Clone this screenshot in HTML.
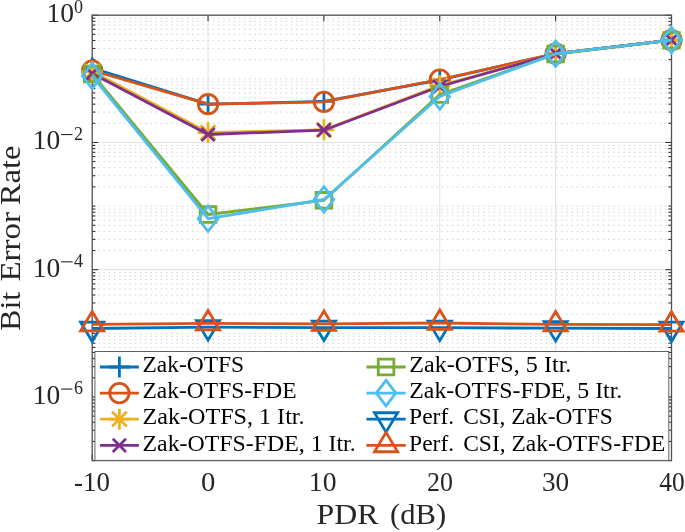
<!DOCTYPE html>
<html><head><meta charset="utf-8"><style>
html,body{margin:0;padding:0;background:#fff;}
body{width:685px;height:532px;overflow:hidden;}
svg{display:block;will-change:transform;}
text{font-family:"Liberation Serif",serif;}
</style></head><body>
<svg width="685" height="532" viewBox="0 0 685 532">
<rect width="685" height="532" fill="#fff"/>
<path d="M92.2 59.67H671.5M92.2 48.47H671.5M92.2 40.52H671.5M92.2 34.35H671.5M92.2 29.32H671.5M92.2 25.06H671.5M92.2 21.37H671.5M92.2 18.11H671.5M92.2 123.30H671.5M92.2 112.10H671.5M92.2 104.15H671.5M92.2 97.98H671.5M92.2 92.94H671.5M92.2 88.68H671.5M92.2 84.99H671.5M92.2 81.74H671.5M92.2 78.83H671.5M92.2 186.93H671.5M92.2 175.73H671.5M92.2 167.78H671.5M92.2 161.61H671.5M92.2 156.57H671.5M92.2 152.31H671.5M92.2 148.62H671.5M92.2 145.37H671.5M92.2 250.56H671.5M92.2 239.36H671.5M92.2 231.41H671.5M92.2 225.24H671.5M92.2 220.20H671.5M92.2 215.94H671.5M92.2 212.25H671.5M92.2 209.00H671.5M92.2 206.09H671.5M92.2 314.19H671.5M92.2 302.98H671.5M92.2 295.03H671.5M92.2 288.87H671.5M92.2 283.83H671.5M92.2 279.57H671.5M92.2 275.88H671.5M92.2 272.63H671.5M92.2 377.82H671.5M92.2 366.61H671.5M92.2 358.66H671.5M92.2 352.50H671.5M92.2 347.46H671.5M92.2 343.20H671.5M92.2 339.51H671.5M92.2 336.25H671.5M92.2 333.34H671.5M92.2 441.45H671.5M92.2 430.24H671.5M92.2 422.29H671.5M92.2 416.13H671.5M92.2 411.09H671.5M92.2 406.83H671.5M92.2 403.14H671.5M92.2 399.88H671.5" stroke="#d2d2d2" stroke-width="1" stroke-dasharray="1.5 3.7" stroke-dashoffset="4.25" fill="none"/>
<path d="M92.2 142.46H671.5M92.2 269.71H671.5M92.2 396.97H671.5M208.06 15.2V460.6M323.92 15.2V460.6M439.78 15.2V460.6M555.64 15.2V460.6" stroke="#dfdfdf" stroke-width="1" fill="none"/>
<path d="M92.2 15.20h6M671.5 15.20h-6M92.2 59.67h3.2M671.5 59.67h-3.2M92.2 48.47h3.2M671.5 48.47h-3.2M92.2 40.52h3.2M671.5 40.52h-3.2M92.2 34.35h3.2M671.5 34.35h-3.2M92.2 29.32h3.2M671.5 29.32h-3.2M92.2 25.06h3.2M671.5 25.06h-3.2M92.2 21.37h3.2M671.5 21.37h-3.2M92.2 18.11h3.2M671.5 18.11h-3.2M92.2 78.83h3.2M671.5 78.83h-3.2M92.2 123.30h3.2M671.5 123.30h-3.2M92.2 112.10h3.2M671.5 112.10h-3.2M92.2 104.15h3.2M671.5 104.15h-3.2M92.2 97.98h3.2M671.5 97.98h-3.2M92.2 92.94h3.2M671.5 92.94h-3.2M92.2 88.68h3.2M671.5 88.68h-3.2M92.2 84.99h3.2M671.5 84.99h-3.2M92.2 81.74h3.2M671.5 81.74h-3.2M92.2 142.46h6M671.5 142.46h-6M92.2 186.93h3.2M671.5 186.93h-3.2M92.2 175.73h3.2M671.5 175.73h-3.2M92.2 167.78h3.2M671.5 167.78h-3.2M92.2 161.61h3.2M671.5 161.61h-3.2M92.2 156.57h3.2M671.5 156.57h-3.2M92.2 152.31h3.2M671.5 152.31h-3.2M92.2 148.62h3.2M671.5 148.62h-3.2M92.2 145.37h3.2M671.5 145.37h-3.2M92.2 206.09h3.2M671.5 206.09h-3.2M92.2 250.56h3.2M671.5 250.56h-3.2M92.2 239.36h3.2M671.5 239.36h-3.2M92.2 231.41h3.2M671.5 231.41h-3.2M92.2 225.24h3.2M671.5 225.24h-3.2M92.2 220.20h3.2M671.5 220.20h-3.2M92.2 215.94h3.2M671.5 215.94h-3.2M92.2 212.25h3.2M671.5 212.25h-3.2M92.2 209.00h3.2M671.5 209.00h-3.2M92.2 269.71h6M671.5 269.71h-6M92.2 314.19h3.2M671.5 314.19h-3.2M92.2 302.98h3.2M671.5 302.98h-3.2M92.2 295.03h3.2M671.5 295.03h-3.2M92.2 288.87h3.2M671.5 288.87h-3.2M92.2 283.83h3.2M671.5 283.83h-3.2M92.2 279.57h3.2M671.5 279.57h-3.2M92.2 275.88h3.2M671.5 275.88h-3.2M92.2 272.63h3.2M671.5 272.63h-3.2M92.2 333.34h3.2M671.5 333.34h-3.2M92.2 377.82h3.2M671.5 377.82h-3.2M92.2 366.61h3.2M671.5 366.61h-3.2M92.2 358.66h3.2M671.5 358.66h-3.2M92.2 352.50h3.2M671.5 352.50h-3.2M92.2 347.46h3.2M671.5 347.46h-3.2M92.2 343.20h3.2M671.5 343.20h-3.2M92.2 339.51h3.2M671.5 339.51h-3.2M92.2 336.25h3.2M671.5 336.25h-3.2M92.2 396.97h6M671.5 396.97h-6M92.2 441.45h3.2M671.5 441.45h-3.2M92.2 430.24h3.2M671.5 430.24h-3.2M92.2 422.29h3.2M671.5 422.29h-3.2M92.2 416.13h3.2M671.5 416.13h-3.2M92.2 411.09h3.2M671.5 411.09h-3.2M92.2 406.83h3.2M671.5 406.83h-3.2M92.2 403.14h3.2M671.5 403.14h-3.2M92.2 399.88h3.2M671.5 399.88h-3.2M92.2 460.60h3.2M671.5 460.60h-3.2M92.20 460.6v-6M92.20 15.2v6M208.06 460.6v-6M208.06 15.2v6M323.92 460.6v-6M323.92 15.2v6M439.78 460.6v-6M439.78 15.2v6M555.64 460.6v-6M555.64 15.2v6M671.50 460.6v-6M671.50 15.2v6" stroke="#262626" stroke-width="1.0" fill="none"/>
<rect x="92.2" y="15.2" width="579.3" height="445.40000000000003" stroke="#505050" stroke-width="1.3" fill="none"/>
<g font-family="Liberation Serif, serif" fill="#262626"><text x="73.94" y="490.8" font-size="28" textLength="35.94" lengthAdjust="spacingAndGlyphs">-10</text><text x="200.9" y="490.8" font-size="28" textLength="14.35" lengthAdjust="spacingAndGlyphs">0</text><text x="308.84" y="490.8" font-size="28" textLength="27.65" lengthAdjust="spacingAndGlyphs">10</text><text x="426.97" y="490.8" font-size="28" textLength="25.96" lengthAdjust="spacingAndGlyphs">20</text><text x="541.93" y="490.8" font-size="28" textLength="27.24" lengthAdjust="spacingAndGlyphs">30</text><text x="659.3" y="490.8" font-size="28" textLength="25.4" lengthAdjust="spacingAndGlyphs">40</text></g>
<g font-family="Liberation Serif, serif" fill="#262626"><text x="46.45" y="22.10" font-size="28" textLength="27.5" lengthAdjust="spacingAndGlyphs">10</text><text x="73.9" y="13.10" font-size="18">0</text><text x="32.75" y="149.36" font-size="28" textLength="27.5" lengthAdjust="spacingAndGlyphs">10</text><rect x="61.1" y="134.01" width="11.4" height="1.1"/><text x="73.9" y="139.86" font-size="18">2</text><text x="32.75" y="276.61" font-size="28" textLength="27.5" lengthAdjust="spacingAndGlyphs">10</text><rect x="61.1" y="261.26" width="11.4" height="1.1"/><text x="73.9" y="267.11" font-size="18">4</text><text x="32.75" y="403.87" font-size="28" textLength="27.5" lengthAdjust="spacingAndGlyphs">10</text><rect x="61.1" y="388.52" width="11.4" height="1.1"/><text x="73.9" y="394.37" font-size="18">6</text></g>
<g font-family="Liberation Serif, serif" fill="#262626" font-size="29.6"><text x="316.5" y="524.2" textLength="61.9" lengthAdjust="spacingAndGlyphs">PDR</text><text x="390" y="524.2" textLength="56.1" lengthAdjust="spacingAndGlyphs">(dB)</text><g transform="rotate(-90)"><text x="-330.77" y="19.9" textLength="38.8" lengthAdjust="spacingAndGlyphs">Bit</text><text x="-281.6" y="19.9" textLength="69.5" lengthAdjust="spacingAndGlyphs">Error</text><text x="-205.2" y="19.9" textLength="59.65" lengthAdjust="spacingAndGlyphs">Rate</text></g></g>
<polyline points="92.20,68.00 208.06,104.20 323.92,101.40 439.78,80.00 555.64,53.70 671.50,40.20" fill="none" stroke="#0072bd" stroke-width="2.8" stroke-linejoin="round"/>
<path d="M81.70 68.00h21.0M92.20 57.50v21.0M197.56 104.20h21.0M208.06 93.70v21.0M313.42 101.40h21.0M323.92 90.90v21.0M429.28 80.00h21.0M439.78 69.50v21.0M545.14 53.70h21.0M555.64 43.20v21.0M661.00 40.20h21.0M671.50 29.70v21.0" fill="none" stroke="#0072bd" stroke-width="2.8" stroke-miterlimit="10"/>
<polyline points="92.20,70.50 208.06,104.20 323.92,101.90 439.78,79.50 555.64,53.70 671.50,40.20" fill="none" stroke="#d95319" stroke-width="2.8" stroke-linejoin="round"/>
<path d="M82.50 70.50a9.7 9.7 0 1 0 19.4 0a9.7 9.7 0 1 0 -19.4 0ZM198.36 104.20a9.7 9.7 0 1 0 19.4 0a9.7 9.7 0 1 0 -19.4 0ZM314.22 101.90a9.7 9.7 0 1 0 19.4 0a9.7 9.7 0 1 0 -19.4 0ZM430.08 79.50a9.7 9.7 0 1 0 19.4 0a9.7 9.7 0 1 0 -19.4 0ZM545.94 53.70a9.7 9.7 0 1 0 19.4 0a9.7 9.7 0 1 0 -19.4 0ZM661.80 40.20a9.7 9.7 0 1 0 19.4 0a9.7 9.7 0 1 0 -19.4 0Z" fill="none" stroke="#d95319" stroke-width="2.8" stroke-miterlimit="10"/>
<polyline points="92.20,71.50 208.06,132.60 323.92,129.80 439.78,85.50 555.64,53.70 671.50,40.20" fill="none" stroke="#edb120" stroke-width="2.8" stroke-linejoin="round"/>
<path d="M81.70 71.50h21.0M92.20 61.00v21.0M84.80 64.10l14.8 14.8M84.80 78.90l14.8 -14.8M197.56 132.60h21.0M208.06 122.10v21.0M200.66 125.20l14.8 14.8M200.66 140.00l14.8 -14.8M313.42 129.80h21.0M323.92 119.30v21.0M316.52 122.40l14.8 14.8M316.52 137.20l14.8 -14.8M429.28 85.50h21.0M439.78 75.00v21.0M432.38 78.10l14.8 14.8M432.38 92.90l14.8 -14.8M545.14 53.70h21.0M555.64 43.20v21.0M548.24 46.30l14.8 14.8M548.24 61.10l14.8 -14.8M661.00 40.20h21.0M671.50 29.70v21.0M664.10 32.80l14.8 14.8M664.10 47.60l14.8 -14.8" fill="none" stroke="#edb120" stroke-width="2.8" stroke-miterlimit="10"/>
<polyline points="92.20,73.60 208.06,134.50 323.92,130.20 439.78,86.50 555.64,53.70 671.50,40.20" fill="none" stroke="#7e2f8e" stroke-width="2.8" stroke-linejoin="round"/>
<path d="M85.60 67.00l13.2 13.2M85.60 80.20l13.2 -13.2M201.46 127.90l13.2 13.2M201.46 141.10l13.2 -13.2M317.32 123.60l13.2 13.2M317.32 136.80l13.2 -13.2M433.18 79.90l13.2 13.2M433.18 93.10l13.2 -13.2M549.04 47.10l13.2 13.2M549.04 60.30l13.2 -13.2M664.90 33.60l13.2 13.2M664.90 46.80l13.2 -13.2" fill="none" stroke="#7e2f8e" stroke-width="2.8" stroke-miterlimit="10"/>
<polyline points="92.20,74.00 208.06,214.50 323.92,200.30 439.78,94.60 555.64,54.00 671.50,40.40" fill="none" stroke="#77ac30" stroke-width="2.8" stroke-linejoin="round"/>
<path d="M84.40 66.20h15.6v15.6h-15.6ZM200.26 206.70h15.6v15.6h-15.6ZM316.12 192.50h15.6v15.6h-15.6ZM431.98 86.80h15.6v15.6h-15.6ZM547.84 46.20h15.6v15.6h-15.6ZM663.70 32.60h15.6v15.6h-15.6Z" fill="none" stroke="#77ac30" stroke-width="2.8" stroke-miterlimit="10"/>
<polyline points="92.20,76.00 208.06,218.70 323.92,199.50 439.78,96.50 555.64,53.70 671.50,40.10" fill="none" stroke="#4dbeee" stroke-width="2.8" stroke-linejoin="round"/>
<path d="M92.20 63.20L102.00 76.00L92.20 88.80L82.40 76.00ZM208.06 205.90L217.86 218.70L208.06 231.50L198.26 218.70ZM323.92 186.70L333.72 199.50L323.92 212.30L314.12 199.50ZM439.78 83.70L449.58 96.50L439.78 109.30L429.98 96.50ZM555.64 40.90L565.44 53.70L555.64 66.50L545.84 53.70ZM671.50 27.30L681.30 40.10L671.50 52.90L661.70 40.10Z" fill="none" stroke="#4dbeee" stroke-width="2.8" stroke-miterlimit="10"/>
<polyline points="92.20,328.50 208.06,327.20 323.92,327.60 439.78,327.70 555.64,328.20 671.50,328.50" fill="none" stroke="#0072bd" stroke-width="2.8" stroke-linejoin="round"/>
<path d="M92.20 341.43L103.80 322.03L80.60 322.03ZM208.06 340.13L219.66 320.73L196.46 320.73ZM323.92 340.53L335.52 321.13L312.32 321.13ZM439.78 340.63L451.38 321.23L428.18 321.23ZM555.64 341.13L567.24 321.73L544.04 321.73ZM671.50 341.43L683.10 322.03L659.90 322.03Z" fill="none" stroke="#0072bd" stroke-width="2.8" stroke-miterlimit="10"/>
<polyline points="92.20,324.40 208.06,323.40 323.92,323.80 439.78,323.00 555.64,324.40 671.50,324.70" fill="none" stroke="#d95319" stroke-width="2.8" stroke-linejoin="round"/>
<path d="M92.20 311.47L103.80 330.87L80.60 330.87ZM208.06 310.47L219.66 329.87L196.46 329.87ZM323.92 310.87L335.52 330.27L312.32 330.27ZM439.78 310.07L451.38 329.47L428.18 329.47ZM555.64 311.47L567.24 330.87L544.04 330.87ZM671.50 311.77L683.10 331.17L659.90 331.17Z" fill="none" stroke="#d95319" stroke-width="2.8" stroke-miterlimit="10"/>
<rect x="94.9" y="351.5" width="573.9" height="108.89999999999998" fill="#fff" stroke="#606060" stroke-width="1.0"/>
<path d="M99.90 367.00H138.90" stroke="#0072bd" stroke-width="2.8"/>
<path d="M108.90 367.00h21.0M119.40 356.50v21.0" fill="none" stroke="#0072bd" stroke-width="2.8" stroke-miterlimit="10"/>
<text font-family="Liberation Serif, serif" x="142.5" y="372.20" font-size="22.8" fill="#000" textLength="101.66" lengthAdjust="spacingAndGlyphs">Zak-OTFS</text>
<path d="M99.90 393.10H138.90" stroke="#d95319" stroke-width="2.8"/>
<path d="M109.70 393.10a9.7 9.7 0 1 0 19.4 0a9.7 9.7 0 1 0 -19.4 0Z" fill="none" stroke="#d95319" stroke-width="2.8" stroke-miterlimit="10"/>
<text font-family="Liberation Serif, serif" x="142.5" y="398.30" font-size="22.8" fill="#000" textLength="154.0" lengthAdjust="spacingAndGlyphs">Zak-OTFS-FDE</text>
<path d="M99.90 419.20H138.90" stroke="#edb120" stroke-width="2.8"/>
<path d="M108.90 419.20h21.0M119.40 408.70v21.0M112.00 411.80l14.8 14.8M112.00 426.60l14.8 -14.8" fill="none" stroke="#edb120" stroke-width="2.8" stroke-miterlimit="10"/>
<text font-family="Liberation Serif, serif" x="142.5" y="424.40" font-size="22.8" fill="#000" textLength="162.06" lengthAdjust="spacingAndGlyphs">Zak-OTFS, 1 Itr.</text>
<path d="M99.90 445.30H138.90" stroke="#7e2f8e" stroke-width="2.8"/>
<path d="M112.80 438.70l13.2 13.2M112.80 451.90l13.2 -13.2" fill="none" stroke="#7e2f8e" stroke-width="2.8" stroke-miterlimit="10"/>
<text font-family="Liberation Serif, serif" x="142.5" y="450.50" font-size="22.8" fill="#000" textLength="213.2" lengthAdjust="spacingAndGlyphs">Zak-OTFS-FDE, 1 Itr.</text>
<path d="M366.40 367.00H405.70" stroke="#77ac30" stroke-width="2.8"/>
<path d="M378.25 359.20h15.6v15.6h-15.6Z" fill="none" stroke="#77ac30" stroke-width="2.8" stroke-miterlimit="10"/>
<text font-family="Liberation Serif, serif" x="409.3" y="372.20" font-size="22.8" fill="#000" textLength="162.06" lengthAdjust="spacingAndGlyphs">Zak-OTFS, 5 Itr.</text>
<path d="M366.40 393.10H405.70" stroke="#4dbeee" stroke-width="2.8"/>
<path d="M386.05 380.30L395.85 393.10L386.05 405.90L376.25 393.10Z" fill="none" stroke="#4dbeee" stroke-width="2.8" stroke-miterlimit="10"/>
<text font-family="Liberation Serif, serif" x="409.3" y="398.30" font-size="22.8" fill="#000" textLength="213.0" lengthAdjust="spacingAndGlyphs">Zak-OTFS-FDE, 5 Itr.</text>
<path d="M366.40 419.20H405.70" stroke="#0072bd" stroke-width="2.8"/>
<path d="M386.05 432.13L397.65 412.73L374.45 412.73Z" fill="none" stroke="#0072bd" stroke-width="2.8" stroke-miterlimit="10"/>
<text font-family="Liberation Serif, serif" x="409.07" y="424.40" font-size="22.8" fill="#000" textLength="45.07" lengthAdjust="spacingAndGlyphs">Perf.</text>
<text font-family="Liberation Serif, serif" x="463.2" y="424.40" font-size="22.8" fill="#000" textLength="149.5" lengthAdjust="spacingAndGlyphs">CSI, Zak-OTFS</text>
<path d="M366.40 445.30H405.70" stroke="#d95319" stroke-width="2.8"/>
<path d="M386.05 432.37L397.65 451.77L374.45 451.77Z" fill="none" stroke="#d95319" stroke-width="2.8" stroke-miterlimit="10"/>
<text font-family="Liberation Serif, serif" x="409.07" y="450.50" font-size="22.8" fill="#000" textLength="45.07" lengthAdjust="spacingAndGlyphs">Perf.</text>
<text font-family="Liberation Serif, serif" x="463.2" y="450.50" font-size="22.8" fill="#000" textLength="202.1" lengthAdjust="spacingAndGlyphs">CSI, Zak-OTFS-FDE</text>
</svg>
</body></html>
